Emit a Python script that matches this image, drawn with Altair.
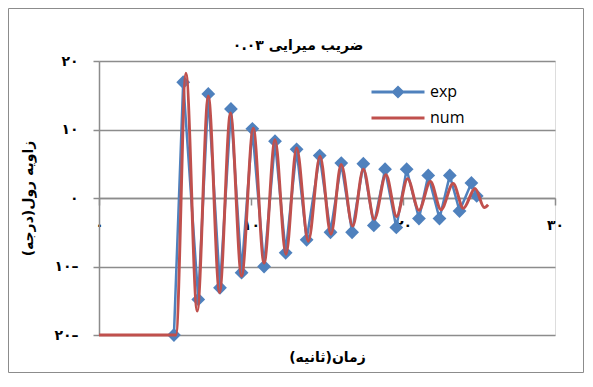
import altair as alt
import pandas as pd

# ---- data ----
exp_t = [4.93, 5.54, 6.53, 7.19, 7.96, 8.68, 9.38, 10.09, 10.86, 11.58, 12.28, 13.0,
         13.66, 14.52, 15.23, 15.94, 16.65, 17.39, 18.08, 18.82, 19.56, 20.24, 21.05,
         21.66, 22.4, 23.08, 23.72, 24.5, 24.85]
exp_v = [-20, 16.9, -14.8, 15.2, -13.1, 13.0, -10.9, 10.1, -10.0, 8.3, -8.0, 7.1,
         -6.1, 6.2, -5.0, 5.1, -5.0, 5.0, -4.0, 4.2, -4.3, 4.2, -3.0,
         3.3, -3.0, 3.3, -1.9, 2.2, 0.3]

num_t = [0, 5.06, 5.72, 6.46, 7.19, 7.93, 8.65, 9.38, 10.15, 10.86, 11.58, 12.3, 13.0,
         13.77, 14.54, 15.26, 15.93, 16.69, 17.39, 18.11, 18.88, 19.58, 20.3, 21.05,
         21.8, 22.5, 23.3, 23.97, 24.74, 25.35, 25.6]
num_v = [-20, -20, 18.2, -16.5, 14.9, -13.8, 12.4, -11.4, 10.2, -9.5, 8.5, -8.2, 7.3,
         -6.3, 6.1, -5.3, 4.9, -4.1, 4.2, -3.1, 3.4, -2.7, 2.8, -1.8,
         2.4, -1.7, 2.1, -1.5, 1.4, -1.4, -1.0]

series_names = ["exp", "num"]
series_colors = ["#4F81BD", "#C0504D"]

x_ticks = [0, 10, 20, 30]
x_tick_labels = ["۰", "۱۰", "۲۰", "۳۰"]
y_ticks = [-20, -10, 0, 10, 20]
y_tick_labels = ["۲۰–", "۱۰–", "۰", "۱۰", "۲۰"]

title_text = "ضریب میرایی ۰.۰۳"
x_title = "\u200fزمان(ثانیه)\u200f"
y_title = "\u200fزاویه رول(درجه)\u200f"

# ---- tables ----
exp_df = pd.DataFrame({"t": exp_t, "v": exp_v, "series": "exp"})
num_df = pd.DataFrame({"t": num_t, "v": num_v, "series": "num"})
frame_df = pd.DataFrame({"k": [0]})

GRID = "#8c8c8c"
PFONT = "DejaVu Sans"


def label_expr(vals, labels):
    arr_l = "[" + ",".join("'" + s + "'" for s in labels) + "]"
    arr_v = "[" + ",".join(str(v) for v in vals) + "]"
    return f"{arr_l}[indexof({arr_v}, datum.value)]"


x_enc = alt.X(
    "t:Q",
    scale=alt.Scale(domain=[0, 30], nice=False, zero=False),
    axis=alt.Axis(
        values=x_ticks, labelExpr=label_expr(x_ticks, x_tick_labels),
        orient="bottom", offset=-137, grid=False, labelFlush=False,
        domain=True, domainColor=GRID, domainWidth=1.5,
        ticks=True, tickSize=7, tickColor=GRID, tickWidth=1.5,
        labelFont=PFONT, labelFontWeight="bold", labelFontSize=14, labelColor="black",
        labelBaseline="alphabetic", labelPadding=24, labelAngle=0, labelAlign="center",
        title=x_title, titleFont=PFONT, titleFontWeight="bold", titleFontSize=14,
        titleColor="black", titleX=228, titleY=159, titleAlign="center",
        titleBaseline="middle", titleAnchor="middle",
    ),
)
y_enc = alt.Y(
    "v:Q",
    scale=alt.Scale(domain=[-20, 20], nice=False),
    axis=alt.Axis(
        values=y_ticks, labelExpr=label_expr(y_ticks, y_tick_labels),
        grid=True, gridColor=GRID, gridWidth=1.5, labelFlush=False,
        domain=True, domainColor=GRID, domainWidth=1.5,
        ticks=True, tickSize=6, tickColor=GRID, tickWidth=1.5,
        labelFont=PFONT, labelFontWeight="bold", labelFontSize=14, labelColor="black",
        labelPadding=15,
        title=y_title, titleFont=PFONT, titleFontWeight="bold", titleFontSize=14,
        titleColor="black", titleX=-71, titleY=137, titleAngle=-90,
        titleAlign="center", titleBaseline="middle",
    ),
)

# legend symbols: a 53px line (with a diamond for exp); size 100 -> 5px per path unit
path_exp = "M-5.3,-0.3L5.3,-0.3L5.3,0.3L-5.3,0.3Z M0,-1.32L1.32,0L0,1.32L-1.32,0Z"
path_num = "M-5.3,-0.3L5.3,-0.3L5.3,0.3L-5.3,0.3Z"

legend_props = dict(
    orient="none", legendX=291, legendY=23, title=None, padding=0,
    symbolSize=100, symbolStrokeWidth=0, rowPadding=10, labelOffset=24,
    labelFont="Open Sans", labelFontSize=16, labelColor="black",
    direction="vertical",
)

exp_line = alt.Chart(exp_df).mark_line(color=series_colors[0], strokeWidth=2.5).encode(
    x=x_enc, y=y_enc)
exp_pts = alt.Chart(exp_df).mark_point(
    shape="diamond", filled=True, size=190, color=series_colors[0], opacity=1
).encode(x=x_enc, y=y_enc)
num_line = alt.Chart(num_df).mark_line(
    color=series_colors[1], strokeWidth=3, interpolate="monotone"
).encode(x=x_enc, y=y_enc)

legend_layer = alt.Chart(exp_df).transform_filter("datum.v > 999").mark_point(
    filled=True, opacity=1
).encode(
    x=x_enc, y=y_enc,
    fill=alt.Fill("series:N", scale=alt.Scale(domain=series_names, range=series_colors),
                  legend=alt.Legend(**legend_props)),
    shape=alt.Shape("series:N", scale=alt.Scale(domain=series_names, range=[path_exp, path_num]),
                    legend=alt.Legend(**legend_props)),
)

frame = alt.Chart(frame_df).mark_rect(
    filled=False, stroke="#8c8c8c", strokeWidth=1
).encode(x=alt.value(-90.5), x2=alt.value(484.5), y=alt.value(-52.5), y2=alt.value(311.5))

chart = alt.layer(frame, exp_line, exp_pts, num_line, legend_layer).properties(
    width=456, height=274,
    padding={"left": 91, "top": 53, "right": 29, "bottom": 38},
    autosize=alt.AutoSizeParams(type="none"),
    title=alt.TitleParams(
        text=title_text, font=PFONT, fontWeight="bold", fontSize=14, color="black",
        anchor="middle", dx=-29, offset=0, dy=56, baseline="alphabetic",
    ),
).configure_view(strokeWidth=0).configure(background="white")

chart.save("out.html", embed_options={"renderer": "svg", "actions": False})
